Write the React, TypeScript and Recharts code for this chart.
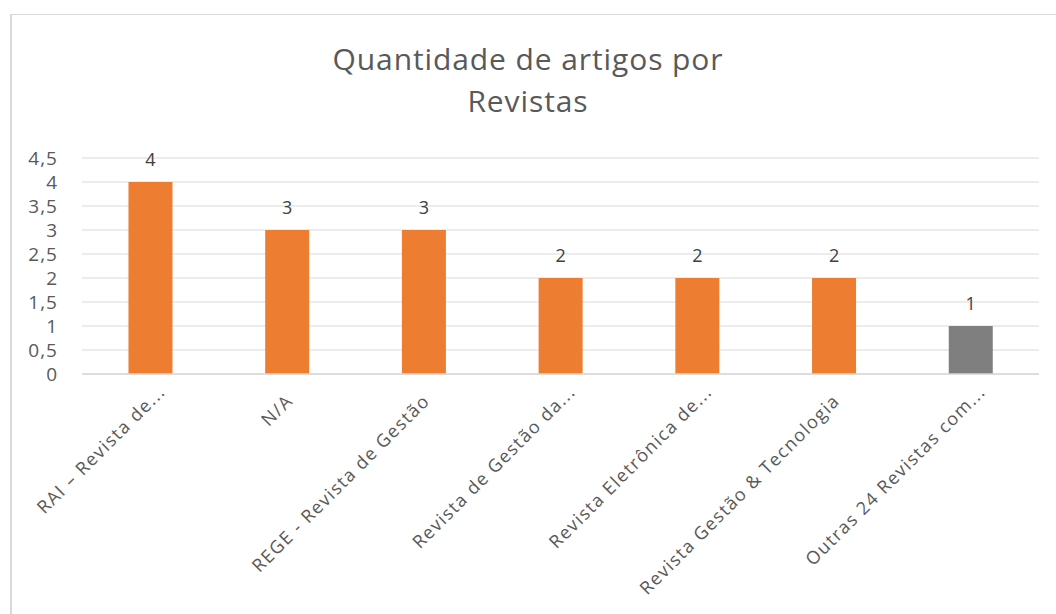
import React from "react";
import { BarChart, Bar, XAxis, YAxis, CartesianGrid, Cell, LabelList } from "recharts";

const journals = [
  "RAI – Revista de...",
  "N/A",
  "REGE - Revista de Gestão",
  "Revista de Gestão da...",
  "Revista Eletrônica de...",
  "Revista Gestão & Tecnologia",
  "Outras 24 Revistas com...",
];
const articleCounts = [4, 3, 3, 2, 2, 2, 1];
const barColors = ["#ED7D31", "#ED7D31", "#ED7D31", "#ED7D31", "#ED7D31", "#ED7D31", "#7F7F7F"];
const yTicks = [0, 0.5, 1, 1.5, 2, 2.5, 3, 3.5, 4, 4.5];

const data = journals.map((name, i) => ({ name, value: articleCounts[i] }));

const FONT = "'Open Sans', sans-serif";

function JournalTick({ x, y, payload }: any) {
  // truncated labels sit a bit further along the diagonal in the original
  const cut = String(payload.value).endsWith("...");
  const tx = x + (cut ? 16 : 7);
  const ty = y + (cut ? 11 : 20);
  return (
    <text
      x={tx}
      y={ty}
      transform={`rotate(-45 ${tx} ${ty})`}
      textAnchor="end"
      fill="#595959"
      fontSize={18}
      fontFamily={FONT}
      letterSpacing={1.4}
    >
      {payload.value}
    </text>
  );
}

export default function App() {
  return (
    <div style={{ position: "absolute", left: 0, top: 0, width: 1056, height: 614, background: "#fff" }}>
      <div
        style={{
          position: "absolute",
          left: 10,
          top: 14,
          right: 0,
          bottom: 0,
          borderLeft: "2px solid #D9D9D9",
          borderTop: "1px solid #D9D9D9",
        }}
      />
      <div
        style={{
          position: "absolute",
          left: 0,
          width: 1056,
          top: 38,
          textAlign: "center",
          fontFamily: FONT,
          fontSize: 30,
          letterSpacing: 0.9,
          lineHeight: "42px",
          color: "#595959",
        }}
      >
        Quantidade de artigos por
        <br />
        Revistas
      </div>
      <BarChart
        width={1056}
        height={614}
        data={data}
        margin={{ top: 158, right: 17, bottom: 0, left: 0 }}
        barCategoryGap="34%"
        style={{ position: "absolute", left: 0, top: 0 }}
      >
        <CartesianGrid vertical={false} stroke="#D9D9D9" />
        <XAxis
          dataKey="name"
          interval={0}
          height={240}
          tickLine={false}
          axisLine={{ stroke: "#D9D9D9", strokeWidth: 1.5 }}
          tick={<JournalTick />}
        />
        <YAxis
          width={82}
          domain={[0, 4.5]}
          ticks={yTicks}
          interval={0}
          axisLine={false}
          tickLine={false}
          tickMargin={18}
          tickFormatter={(v: number) => String(v).replace(".", ",")}
          tick={{ fill: "#595959", fontSize: 19, fontFamily: FONT, letterSpacing: 1 }}
        />
        <Bar dataKey="value" isAnimationActive={false}>
          {data.map((d, i) => (
            <Cell key={d.name} fill={barColors[i]} />
          ))}
          <LabelList
            dataKey="value"
            position="top"
            offset={16}
            fill="#404040"
            fontSize={18}
            fontFamily={FONT}
          />
        </Bar>
      </BarChart>
    </div>
  );
}
